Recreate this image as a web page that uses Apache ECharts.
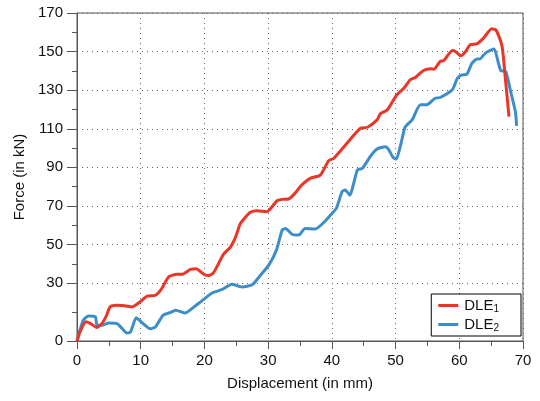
<!DOCTYPE html>
<html>
<head>
<meta charset="utf-8">
<script src="https://cdn.jsdelivr.net/npm/echarts@6/dist/echarts.min.js"></script>
<style>
  html, body { margin: 0; padding: 0; background: #fff; }
  #chart { width: 540px; height: 401px; }
</style>
</head>
<body>
<div id="chart"></div>
<script>
// displacement (mm) / force (kN)
const dle1Disp = [0, 0.5, 1.4, 2.0, 3.1, 3.9, 4.6, 5.2, 6.3, 7.5, 8.6, 9.9, 11.0, 12.3, 13.3, 14.4, 15.7, 16.5,
    17.8, 18.7, 19.9, 20.7, 21.4, 22.2, 23.0, 24.1, 24.9, 25.6, 26.4, 27.2, 28.3, 29.8, 31.4, 32.2, 33.2, 34.2,
    35.1, 36.6, 38.2, 39.5, 40.3, 41.6, 42.9, 44.5, 45.6, 47.1, 47.6, 48.7, 49.5, 50.2, 51.3, 52.3, 53.1, 54.4,
    55.5, 56.0, 57.0, 57.6, 58.9, 59.4, 60.2, 61.0, 61.7, 62.8, 63.8, 65.1, 65.8, 66.7, 67.2, 67.8];
const dle1Force = [0, 5, 10.0, 9.3, 7.0, 9.0, 13.0, 17.7, 18.5, 18.3, 17.7, 20.3, 23.2, 23.7, 27.2, 33.2, 34.6, 34.6,
    37.1, 37.4, 34.6, 33.9, 35.3, 40.0, 45.0, 48.8, 54.0, 60.6, 64.0, 66.7, 67.5, 67.0, 72.7, 73.4, 73.6, 76.5,
    80.3, 84.3, 86.0, 93.5, 94.7, 99.5, 104.6, 110.3, 110.8, 114.6, 117.7, 119.8, 124.0, 127.6, 131.0, 135.4, 136.6, 140.2,
    141.1, 140.9, 144.9, 145.4, 150.6, 150.1, 147.8, 150.1, 153.5, 154.1, 157.0, 161.8, 161.0, 153.0, 137.1, 116.3];

const dle2Disp = [0, 0.5, 1.0, 1.8, 2.9, 3.1, 3.9, 5.0, 6.3, 7.1, 7.8, 8.4, 9.3, 10.2, 11.5, 12.3, 13.5, 14.6,
    15.5, 17.0, 18.3, 19.4, 21.2, 22.8, 24.3, 25.9, 27.5, 28.8, 30.1, 31.3, 32.2, 32.7, 33.8, 34.8, 35.8, 37.4,
    38.7, 39.8, 40.7, 41.6, 42.1, 42.8, 44.0, 44.8, 46.0, 47.1, 48.4, 48.9, 49.6, 50.1, 50.8, 51.5, 52.6, 53.9,
    54.9, 56.2, 57.0, 58.9, 59.7, 60.4, 61.2, 62.0, 62.8, 63.2, 64.1, 65.4, 66.5, 67.3, 68.0, 68.8, 69.0];
const dle2Force = [0, 6, 10.7, 13.0, 12.5, 8.5, 8.1, 9.3, 9.0, 6.4, 4.2, 4.7, 12.0, 9.5, 6.4, 7.3, 13.3, 14.7,
    16.0, 14.5, 17.5, 20.3, 24.9, 26.7, 29.4, 28.0, 29.1, 34.1, 39.3, 47.1, 57.5, 58.3, 55.2, 54.9, 58.3, 58.0,
    61.3, 65.3, 68.7, 77.4, 78.3, 75.6, 88.6, 89.5, 95.5, 99.5, 100.7, 99.3, 95.2, 94.3, 101.6, 110.8, 114.6, 122.4,
    122.4, 125.8, 126.2, 130.2, 136.2, 137.9, 138.3, 144.0, 146.1, 146.1, 149.2, 151.3, 140.2, 139.6, 130.2, 118.9, 111.5];

const yLabelTicks = [0, 30, 50, 70, 90, 110, 130, 150, 170];
const yMinorTicks = [15, 40, 60, 80, 100, 120, 140, 160];

function zip(xs, ys) {
    return xs.map(function (x, i) { return [x, ys[i]]; });
}

var chartDom = document.getElementById('chart');
var myChart = echarts.init(chartDom);

const textColor = '#111';
const axisColor = '#555';
const font = 'Liberation Sans, Arial, Helvetica, sans-serif';

var option = {
    animation: false,
    textStyle: { fontFamily: font },
    grid: {
        left: 77, right: 17, top: 13, bottom: 60,
        show: true, borderColor: axisColor, borderWidth: 1,
        outerBoundsMode: 'none'
    },
    legend: {
        data: ['DLE1', 'DLE2'],
        orient: 'vertical',
        right: 19,
        top: 294,
        icon: 'rect',
        itemWidth: 20,
        itemHeight: 3,
        itemGap: 2,
        padding: [3, 22, 3, 7],
        backgroundColor: '#fff',
        borderColor: '#000',
        borderWidth: 1,
        formatter: function (name) {
            return 'DLE{sub|' + name.slice(3) + '}';
        },
        textStyle: {
            fontSize: 15, color: textColor, lineHeight: 17, padding: [0, 0, 0, 1],
            rich: { sub: { fontSize: 10, verticalAlign: 'bottom', padding: [7, 0, 0, 0] } }
        }
    },
    xAxis: {
        type: 'value',
        min: 0, max: 70, interval: 10,
        name: 'Displacement (in mm)',
        nameLocation: 'middle',
        nameGap: 35,
        nameTextStyle: { fontSize: 15, color: textColor },
        axisLine: { lineStyle: { color: axisColor, width: 1 } },
        axisTick: { length: 8, lineStyle: { color: axisColor } },
        minorTick: { show: true, splitNumber: 2, length: 5, lineStyle: { color: axisColor } },
        axisLabel: { fontSize: 15, color: textColor, margin: 12 },
        splitLine: { show: true, lineStyle: { color: '#666', type: [1, 4], width: 1 } }
    },
    yAxis: [
        {
            type: 'value',
            min: 0, max: 170,
            name: 'Force (in kN)',
            nameLocation: 'middle',
            nameGap: 44,
            nameTextStyle: { fontSize: 15, color: textColor },
            axisLine: { show: true, lineStyle: { color: axisColor, width: 1 } },
            axisTick: { show: true, length: 10, customValues: yLabelTicks, lineStyle: { color: axisColor } },
            axisLabel: { fontSize: 15, color: textColor, margin: 14, customValues: yLabelTicks },
            splitLine: { show: true, lineStyle: { color: '#666', type: [1, 4], width: 1 } }
        },
        {
            type: 'value',
            min: 0, max: 170,
            position: 'left',
            axisLine: { show: false },
            axisTick: { show: true, length: 5, customValues: yMinorTicks, lineStyle: { color: axisColor } },
            axisLabel: { show: false },
            splitLine: { show: false }
        }
    ],
    series: [
        {
            name: 'DLE2',
            type: 'line',
            data: zip(dle2Disp, dle2Force),
            showSymbol: false,
            smooth: 0.2,
            color: '#3d8ec8',
            lineStyle: { width: 3 }
        },
        {
            name: 'DLE1',
            type: 'line',
            data: zip(dle1Disp, dle1Force),
            showSymbol: false,
            smooth: 0.2,
            color: '#ea3627',
            lineStyle: { width: 3 }
        }
    ]
};
myChart.setOption(option);
</script>
</body>
</html>
